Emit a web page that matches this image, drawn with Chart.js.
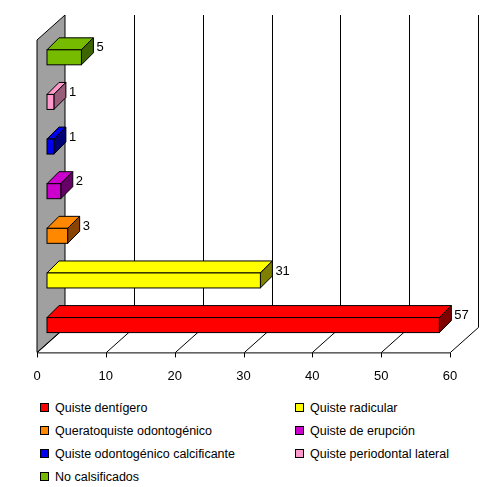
<!DOCTYPE html>
<html lang="es">
<head>
<meta charset="UTF-8">
<title>Quistes</title>
<script src="https://cdn.jsdelivr.net/npm/chart.js"></script>
<style>
  body { margin: 0; background: #fff; font-family: "Liberation Sans", Arial, sans-serif; }
  #wrap { position: relative; width: 500px; height: 487px; }
  #legend { position: absolute; left: 40px; top: 401px; width: 460px; font-size: 12.5px; }
  .item { position: absolute; white-space: nowrap; }
  .box { display: inline-block; width: 7px; height: 7px; border: 1px solid #000; margin-right: 6px; vertical-align: 0px; }
</style>
</head>
<body>
<div id="wrap">
  <div style="position:absolute;left:0;top:0;width:500px;height:392px;"><canvas id="c"></canvas></div>
  <div id="legend"></div>
</div>
<script>
// top to bottom, as drawn
var categories = ['No calsificados', 'Quiste periodontal lateral', 'Quiste odontogénico calcificante',
  'Quiste de erupción', 'Queratoquiste odontogénico', 'Quiste radicular', 'Quiste dentígero'];
var values = [5, 1, 1, 2, 3, 31, 57];
var fronts = ['#77bb00', '#ff99cc', '#0000ee', '#cc00cc', '#ff8800', '#ffff00', '#ff0000'];
var sides = ['#3d6600', '#995c7a', '#000077', '#660066', '#884400', '#808000', '#800000'];
var legendOrder = [6, 5, 4, 3, 2, 1, 0];
var xTicks = [0, 10, 20, 30, 40, 50, 60];

var DX = 28, DY = 25;   // wall depth
var BX = 10, BY = 9, BD = 12;  // bar offset and depth

var fake3d = {
  id: 'fake3d',
  beforeDatasetsDraw: function (chart) {
    var ctx = chart.ctx, a = chart.chartArea, xs = chart.scales.x;
    ctx.save();
    ctx.fillStyle = '#a0a0a0';
    ctx.strokeStyle = '#000';
    ctx.lineWidth = 1;
    ctx.beginPath();
    ctx.moveTo(a.left, a.bottom); ctx.lineTo(a.left, a.top);
    ctx.lineTo(a.left + DX, a.top - DY); ctx.lineTo(a.left + DX, a.bottom - DY);
    ctx.closePath(); ctx.fill(); ctx.stroke();
    xTicks.forEach(function (t) {
      var x = Math.round(xs.getPixelForValue(t)) + 0.5;
      ctx.beginPath();
      ctx.moveTo(x, a.bottom); ctx.lineTo(x + DX, a.bottom - DY);
      if (t > 0) ctx.lineTo(x + DX, a.top - DY);
      ctx.stroke();
      ctx.beginPath(); ctx.moveTo(x, a.bottom); ctx.lineTo(x, a.bottom + 5); ctx.stroke();
    });
    ctx.beginPath(); ctx.moveTo(a.left, a.bottom + 0.5); ctx.lineTo(a.right, a.bottom + 0.5); ctx.stroke();
    ctx.restore();
  },
  afterDatasetsDraw: function (chart) {
    var ctx = chart.ctx, xs = chart.scales.x;
    var meta = chart.getDatasetMeta(0);
    ctx.save();
    ctx.lineWidth = 1; ctx.strokeStyle = '#000';
    meta.data.forEach(function (bar, i) {
      var x0 = xs.getPixelForValue(0) + BX, x1 = xs.getPixelForValue(values[i]) + BX;
      var h = 15, y0 = bar.y - h / 2 - BY + 4, y1 = y0 + h;
      ctx.fillStyle = fronts[i];
      ctx.beginPath();
      ctx.moveTo(x0, y0); ctx.lineTo(x0 + BD, y0 - BD); ctx.lineTo(x1 + BD, y0 - BD); ctx.lineTo(x1, y0);
      ctx.closePath(); ctx.fill(); ctx.stroke();
      ctx.fillStyle = sides[i];
      ctx.beginPath();
      ctx.moveTo(x1, y0); ctx.lineTo(x1 + BD, y0 - BD); ctx.lineTo(x1 + BD, y1 - BD); ctx.lineTo(x1, y1);
      ctx.closePath(); ctx.fill(); ctx.stroke();
      ctx.fillStyle = fronts[i];
      ctx.fillRect(x0, y0, x1 - x0, h);
      ctx.strokeRect(x0, y0, x1 - x0, h);
      ctx.fillStyle = '#000';
      ctx.font = '13px "Liberation Sans", Arial';
      ctx.textBaseline = 'middle';
      ctx.fillText(values[i], x1 + BD + 3, y0 - 2);
    });
    ctx.restore();
  }
};

new Chart(document.getElementById('c'), {
  type: 'bar',
  data: {
    labels: categories,
    datasets: [{ data: values, backgroundColor: 'rgba(0,0,0,0)', borderWidth: 0 }]
  },
  options: {
    indexAxis: 'y',
    responsive: true,
    maintainAspectRatio: false,
    animation: false,
    layout: { padding: { left: 37, right: 50, top: 40, bottom: 0 } },
    plugins: { legend: { display: false }, tooltip: { enabled: false } },
    scales: {
      x: {
        min: 0, max: 60,
        afterBuildTicks: function (s) { s.ticks = xTicks.map(function (v) { return { value: v }; }); },
        grid: { display: false },
        border: { display: false },
        ticks: { color: '#000', font: { family: '"Liberation Sans", Arial', size: 13 }, padding: 8 }
      },
      y: { display: false }
    }
  },
  plugins: [fake3d]
});

var lg = document.getElementById('legend');
legendOrder.forEach(function (idx, k) {
  var d = document.createElement('div');
  d.className = 'item';
  d.style.left = (k % 2 ? 255 : 0) + 'px';
  d.style.top = (Math.floor(k / 2) * 23) + 'px';
  d.innerHTML = '<span class="box" style="background:' + fronts[idx] + '"></span>' + categories[idx];
  lg.appendChild(d);
});
</script>
</body>
</html>
